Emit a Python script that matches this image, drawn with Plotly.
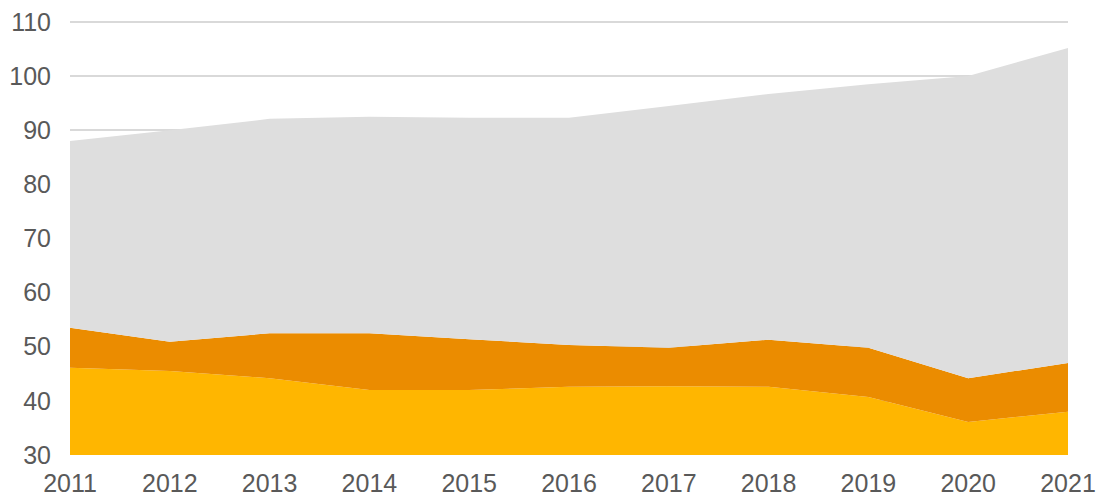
import plotly.graph_objects as go

years = [2011, 2012, 2013, 2014, 2015, 2016, 2017, 2018, 2019, 2020, 2021]
# cumulative tops
yellow_top = [46.1, 45.5, 44.2, 42.0, 42.0, 42.6, 42.7, 42.6, 40.7, 36.1, 38.0]
orange_top = [53.5, 50.9, 52.5, 52.5, 51.4, 50.3, 49.8, 51.3, 49.8, 44.2, 47.0]
gray_top = [88.0, 90.0, 92.1, 92.5, 92.3, 92.3, 94.5, 96.7, 98.5, 100.0, 105.2]

yellow_vals = yellow_top
orange_vals = [round(o - y, 2) for o, y in zip(orange_top, yellow_top)]
gray_vals = [round(g - o, 2) for g, o in zip(gray_top, orange_top)]

y_ticks = [30, 40, 50, 60, 70, 80, 90, 100, 110]

fig = go.Figure()
for name, vals, col in [
    ("Series 1", yellow_vals, "#FFB600"),
    ("Series 2", orange_vals, "#EB8C00"),
    ("Series 3", gray_vals, "#DEDEDE"),
]:
    fig.add_trace(go.Scatter(
        x=years, y=vals, name=name, stackgroup="one", mode="none",
        fillcolor=col, line=dict(width=0), hoverinfo="x+y",
    ))

fig.update_layout(
    width=1098, height=496,
    margin=dict(l=70, r=30, t=19, b=41, autoexpand=False),
    paper_bgcolor="white", plot_bgcolor="white",
    showlegend=False,
    font=dict(family="Liberation Sans, Arial, sans-serif", size=25, color="#595959"),
)
fig.update_xaxes(
    range=[2011, 2021], tickvals=years, ticktext=[str(y) for y in years],
    showgrid=False, zeroline=False, showline=False, ticks="", ticklabelstandoff=11,
)
fig.update_yaxes(
    range=[30, 110.55], tickvals=y_ticks, showgrid=True, gridcolor="#D9D9D9", gridwidth=2,
    zeroline=False, showline=False, ticks="", ticklabelstandoff=18,
)
fig.update_layout(yaxis=dict(layer="below traces"))
fig.write_html("out.html", config={"displayModeBar": False},
               post_script="document.body.style.margin='0';")
